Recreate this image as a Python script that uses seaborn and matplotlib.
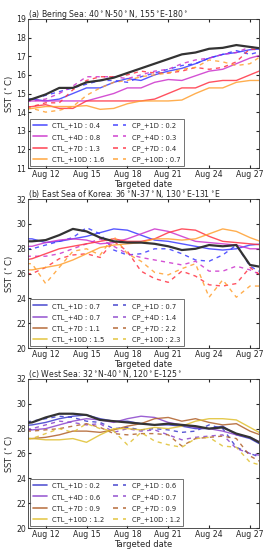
import pandas as pd
import numpy as np
import seaborn as sns
import matplotlib.pyplot as plt
import matplotlib.dates as mdates
from matplotlib.lines import Line2D

sns.set_style("white")
plt.rcParams['font.family'] = ['DejaVu Sans']

# Date giornaliere (10-28 agosto)
dates = pd.date_range('2015-08-10', '2015-08-28', freq='D')

# --- (a) Bering Sea ---
a_obs = [14.5, 14.7, 14.95, 15.3, 15.3, 15.6, 15.7, 15.85, 16.1, 16.35, 16.6, 16.85, 17.1, 17.2, 17.4, 17.45, 17.6, 17.5, 17.4]
a_ctl1 = [14.7, 14.7, 14.6, 14.7, 15.0, 15.3, 15.3, 15.6, 15.8, 15.7, 16.0, 16.2, 16.35, 16.6, 16.9, 17.1, 17.2, 17.35, 17.4]
a_ctl4 = [14.6, 14.6, 14.6, 14.6, 14.6, 14.6, 14.8, 15.0, 15.3, 15.3, 15.6, 15.75, 15.7, 15.95, 16.2, 16.3, 16.6, 16.9, 17.1]
a_ctl7 = [14.2, 14.3, 14.4, 14.2, 14.2, 14.6, 14.6, 14.6, 14.6, 14.6, 14.7, 15.0, 15.3, 15.3, 15.6, 15.7, 15.7, 16.0, 16.3]
a_ctl10 = [14.1, 14.2, 14.3, 14.3, 14.3, 14.35, 14.15, 14.2, 14.45, 14.6, 14.6, 14.6, 14.65, 15.0, 15.3, 15.3, 15.6, 15.7, 15.7]
a_cp1 = [14.6, 14.7, 14.9, 15.1, 15.3, 15.5, 15.7, 15.7, 15.6, 15.9, 16.1, 16.3, 16.5, 16.6, 16.9, 17.1, 17.3, 17.1, 17.3]
a_cp4 = [14.5, 14.6, 14.7, 15.0, 15.4, 15.9, 15.9, 15.9, 15.8, 16.0, 16.2, 16.3, 16.6, 16.8, 16.9, 17.1, 17.2, 17.5, 17.4]
a_cp7 = [14.2, 14.3, 14.5, 14.5, 15.2, 15.7, 15.9, 15.9, 16.0, 16.2, 16.1, 16.1, 16.2, 16.4, 16.3, 16.4, 16.7, 17.4, 17.3]
a_cp10 = [14.2, 14.2, 14.0, 14.1, 14.3, 14.9, 15.3, 15.6, 15.7, 15.9, 16.0, 16.1, 16.3, 16.4, 16.8, 16.7, 16.5, 16.6, 17.1]
a_rmse_ctl = ['0.4', '0.8', '1.3', '1.6']
a_rmse_cp = ['0.2', '0.3', '0.4', '0.7']

# --- (b) East Sea of Korea ---
b_obs = [28.6, 28.6, 28.7, 29.1, 29.6, 29.4, 28.9, 28.6, 28.5, 28.5, 28.4, 28.2, 27.9, 28.0, 28.3, 28.2, 28.3, 26.7, 26.5]
b_ctl1 = [28.8, 28.8, 28.5, 28.6, 28.8, 29.0, 29.3, 29.6, 29.5, 29.1, 28.7, 28.6, 28.4, 28.2, 28.0, 27.9, 28.0, 28.3, 28.4]
b_ctl4 = [28.2, 28.2, 28.5, 28.7, 28.8, 28.7, 28.4, 28.5, 28.8, 29.2, 29.6, 29.4, 29.0, 28.6, 28.5, 28.4, 28.3, 28.0, 28.0]
b_ctl7 = [27.0, 27.2, 27.6, 28.0, 28.2, 28.4, 28.6, 28.8, 28.6, 28.6, 28.8, 29.3, 29.6, 29.5, 29.0, 28.6, 28.5, 28.4, 28.3]
b_ctl10 = [26.3, 26.3, 26.5, 26.7, 27.1, 27.6, 28.1, 28.3, 28.4, 28.5, 28.8, 28.8, 28.7, 28.8, 29.2, 29.6, 29.4, 28.9, 28.5]
b_cp1 = [28.0, 28.0, 28.3, 28.6, 28.9, 29.7, 29.2, 27.9, 27.5, 27.6, 28.0, 28.0, 27.6, 27.1, 27.0, 27.5, 28.3, 26.6, 26.0]
b_cp4 = [27.4, 27.4, 27.4, 27.6, 28.0, 28.4, 28.8, 28.2, 27.6, 27.3, 27.1, 26.9, 26.7, 27.0, 26.2, 26.2, 26.6, 26.3, 25.8]
b_cp7 = [26.0, 26.0, 26.5, 27.2, 27.5, 27.6, 27.3, 28.6, 27.8, 26.2, 25.6, 25.3, 26.2, 25.8, 25.1, 25.0, 25.2, 26.5, 25.7]
b_cp10 = [26.8, 26.8, 25.2, 26.5, 27.8, 28.0, 27.5, 29.0, 27.6, 27.0, 26.1, 25.9, 26.4, 26.8, 24.1, 25.5, 24.1, 25.0, 25.0]
b_rmse_ctl = ['0.7', '0.7', '1.1', '1.5']
b_rmse_cp = ['0.7', '1.4', '2.2', '2.3']

# --- (c) West Sea ---
c_obs = [28.4, 28.5, 28.9, 29.2, 29.2, 29.1, 28.7, 28.6, 28.5, 28.4, 28.3, 28.4, 28.3, 28.2, 28.0, 28.1, 27.6, 27.3, 26.7]
c_ctl1 = [28.2, 28.3, 28.5, 28.8, 29.0, 29.1, 28.8, 28.6, 28.6, 28.4, 28.3, 28.3, 28.2, 28.0, 28.0, 28.2, 27.5, 27.2, 26.6]
c_ctl4 = [27.8, 27.9, 28.0, 28.3, 28.6, 28.8, 28.7, 28.5, 28.8, 29.0, 28.9, 28.5, 28.3, 28.1, 28.0, 27.8, 27.5, 27.3, 26.8]
c_ctl7 = [27.2, 27.2, 27.3, 27.5, 27.8, 27.8, 27.7, 27.9, 28.2, 28.4, 28.8, 28.9, 28.6, 28.8, 28.5, 28.3, 28.4, 27.8, 27.4]
c_ctl10 = [27.2, 27.2, 27.1, 27.1, 27.2, 26.9, 27.5, 28.0, 28.0, 27.9, 28.1, 28.0, 28.2, 28.6, 28.8, 28.8, 28.7, 28.1, 27.5]
c_cp1 = [28.5, 28.6, 28.8, 29.0, 28.9, 28.6, 28.5, 28.0, 28.1, 27.9, 28.0, 27.9, 27.7, 27.8, 28.3, 28.0, 26.5, 26.0, 25.6]
c_cp4 = [27.9, 28.0, 28.3, 28.6, 28.5, 28.3, 28.4, 27.7, 28.0, 27.8, 27.9, 27.5, 27.1, 27.3, 27.4, 27.5, 26.4, 26.0, 25.8]
c_cp7 = [27.8, 27.8, 27.9, 28.0, 28.2, 28.4, 28.1, 27.6, 27.5, 27.6, 27.6, 27.5, 26.6, 27.2, 27.3, 27.4, 27.2, 25.8, 25.2]
c_cp10 = [27.2, 27.2, 27.6, 28.0, 27.7, 28.4, 28.0, 27.8, 26.7, 27.7, 27.0, 26.7, 26.5, 27.2, 27.3, 26.6, 26.5, 25.3, 25.0]
c_rmse_ctl = ['0.2', '0.6', '0.9', '1.2']
c_rmse_cp = ['0.6', '0.7', '0.9', '1.2']

leads = ['+1D', '+4D', '+7D', '+10D']
col_ab = ['#3a3aff', '#cc33cc', '#ff3344', '#ffa030']
col_c = ['#3a3acc', '#8a44cc', '#b0602a', '#e0c030']

pannelli = [
    ('(a) Bering Sea: 40$^\\circ$N-50$^\\circ$N, 155$^\\circ$E-180$^\\circ$', a_obs,
     [a_ctl1, a_ctl4, a_ctl7, a_ctl10], [a_cp1, a_cp4, a_cp7, a_cp10],
     a_rmse_ctl, a_rmse_cp, col_ab, col_ab, (11, 19), 1),
    ('(b) East Sea of Korea: 36$^\\circ$N-37$^\\circ$N, 130$^\\circ$E-131$^\\circ$E', b_obs,
     [b_ctl1, b_ctl4, b_ctl7, b_ctl10], [b_cp1, b_cp4, b_cp7, b_cp10],
     b_rmse_ctl, b_rmse_cp, col_ab, col_c, (20, 32), 2),
    ('(c) West Sea: 32$^\\circ$N-40$^\\circ$N, 120$^\\circ$E-125$^\\circ$', c_obs,
     [c_ctl1, c_ctl4, c_ctl7, c_ctl10], [c_cp1, c_cp4, c_cp7, c_cp10],
     c_rmse_ctl, c_rmse_cp, col_c, col_c, (20, 32), 2),
]

fig = plt.figure(figsize=(2.75, 5.5), dpi=100)
bottoms = [0.6945, 0.367, 0.04]

for (titolo, obs, ctl, cp, r_ctl, r_cp, colori, col_leg, ylim, passo), b in zip(pannelli, bottoms):
    ax = fig.add_axes([0.102, b, 0.84, 0.271])
    for i in range(4):
        sns.lineplot(x=dates, y=ctl[i], ax=ax, color=colori[i], lw=1.0, alpha=0.85)
        sns.lineplot(x=dates, y=cp[i], ax=ax, color=colori[i], lw=1.0, alpha=0.85,
                     linestyle=(0, (3, 3)))
    sns.lineplot(x=dates, y=obs, ax=ax, color='#333333', lw=1.6)

    ax.set_xlim(pd.Timestamp('2015-08-10 17:00'), pd.Timestamp('2015-08-27 16:00'))
    ax.set_ylim(*ylim)
    ax.set_yticks(np.arange(ylim[0], ylim[1] + 0.1, passo))
    ax.xaxis.set_major_locator(mdates.DayLocator(bymonthday=[12, 15, 18, 21, 24, 27]))
    ax.xaxis.set_major_formatter(mdates.DateFormatter('%b %d'))
    ax.tick_params(labelsize=5.6, length=2, pad=1.5, direction='in',
                   top=True, right=True, bottom=True, left=True)
    ax.set_xlabel('Targeted date', fontsize=6, labelpad=0.5)
    ax.set_ylabel('SST ($^\\circ$C)', fontsize=6, labelpad=1)
    ax.set_title(titolo, fontsize=5.6, loc='left', pad=1.5)
    for s in ax.spines.values():
        s.set_color('#333333')
        s.set_linewidth(0.6)

    # legenda costruita a mano (colori come nel riferimento)
    handles = []
    etichette = []
    for i in range(4):
        handles.append(Line2D([], [], color=col_leg[i], lw=1.2, alpha=0.85))
        etichette.append('CTL_' + leads[i] + ' : ' + r_ctl[i])
    for i in range(4):
        handles.append(Line2D([], [], color=col_leg[i], lw=1.2, alpha=0.85, linestyle=(0, (3, 3))))
        etichette.append('CP_' + leads[i] + ' : ' + r_cp[i])
    leg = ax.legend(handles, etichette, ncol=2, loc='lower left', fontsize=4.9,
                    frameon=True, fancybox=False, borderpad=0.5, labelspacing=0.65,
                    handlelength=2.0, handletextpad=0.8, columnspacing=1.2,
                    borderaxespad=0.25)
    leg.get_frame().set_edgecolor('#333333')
    leg.get_frame().set_linewidth(0.6)

plt.savefig('out.png', dpi=100)
